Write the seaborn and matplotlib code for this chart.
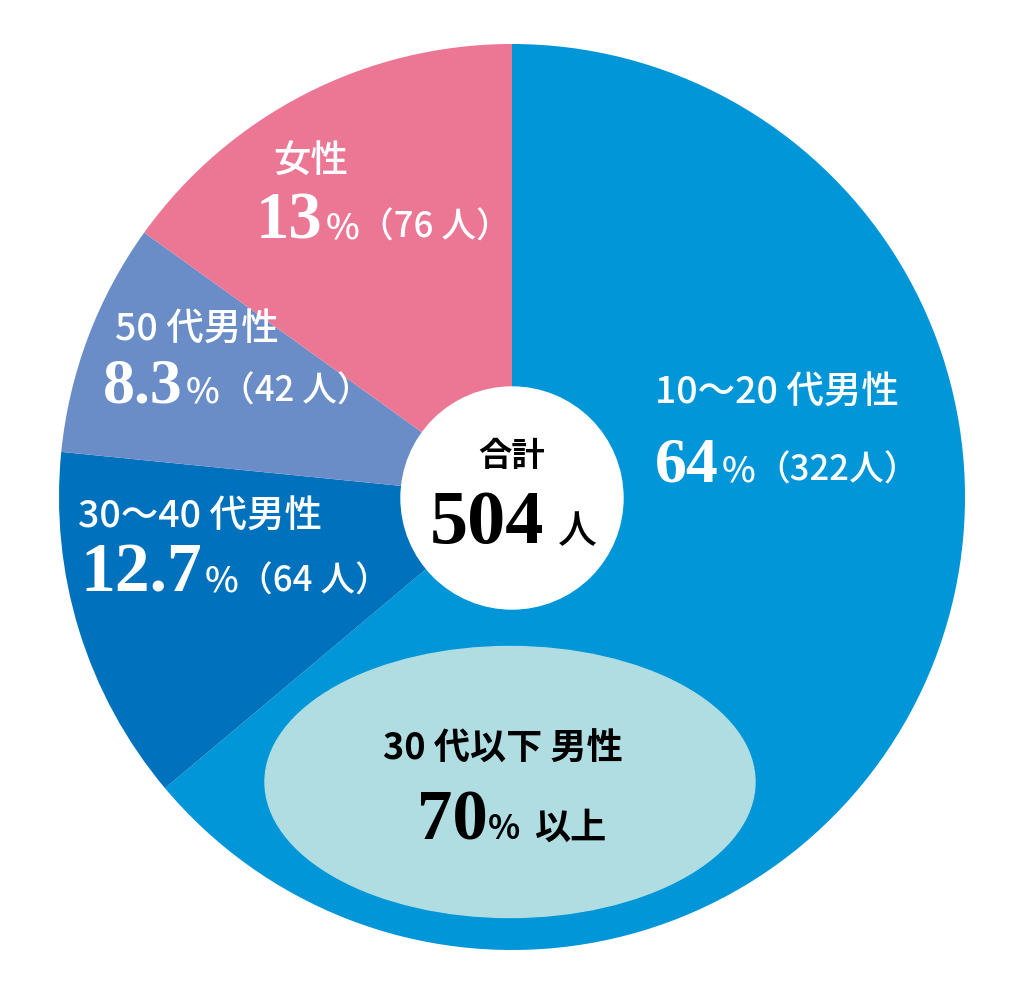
import matplotlib
matplotlib.use('Agg')
import matplotlib.pyplot as plt
from matplotlib.patches import Ellipse, Circle
import seaborn as sns

# data
groups = ['10〜20 代男性', '30〜40 代男性', '50 代男性', '女性']
counts = [322, 64, 42, 76]
pct_labels = ['64', '12.7', '8.3', '13']
count_labels = ['（322人）', '（64 人）', '（42 人）', '（76 人）']
colors = ['#0096d8', '#0071bd', '#6a8dc8', '#ec7795']
total = sum(counts)

sns.set_theme(style='white')
plt.rcParams['font.family'] = ['Noto Sans CJK JP', 'DejaVu Sans']
JP = ['Noto Sans CJK JP', 'DejaVu Sans']
NUM = ['Liberation Serif', 'DejaVu Serif']

W, H = 1024, 1005
fig = plt.figure(figsize=(W / 100, H / 100), dpi=100)
ax = fig.add_axes([0, 0, 1, 1])
ax.set_xlim(0, W)
ax.set_ylim(0, H)
ax.set_aspect('equal')
ax.axis('off')

ax.pie(counts, colors=colors, startangle=90, counterclock=False,
       center=(512, H - 497), radius=453,
       wedgeprops=dict(linewidth=0))
ax.set_xlim(0, W)
ax.set_ylim(0, H)

ax.add_patch(Ellipse((510, H - 782), 490, 271, color='#b0dde2', zorder=3))
ax.add_patch(Circle((512, H - 498), 111, color='white', zorder=3))

renderer = fig.canvas.get_renderer()


def put_line(parts, x, y_img, color):
    # parts: list of (text, size, family, weight, gap)
    for text, size, fam, weight, gap in parts:
        t = ax.text(x, H - y_img, text, fontsize=size, family=fam,
                    fontweight=weight, color=color, ha='left',
                    va='baseline', zorder=5)
        bb = t.get_window_extent(renderer)
        x = bb.x1 + gap


# slice labels
label_pos = [(655, 403), (78, 527), (115, 340), (273, 173)]
big_pos = [(655, 481), (80, 592), (103, 402), (256, 238)]
big_size = [46, 50, 46, 48]
for i in range(len(groups)):
    lx, ly = label_pos[i]
    put_line([(groups[i], 27, JP, 'medium', 0)], lx, ly, 'white')
    bx, by = big_pos[i]
    put_line([(pct_labels[i], big_size[i], NUM, 'bold', 3),
              ('%', 26, JP, 'medium', 0),
              (count_labels[i], 25, JP, 'medium', 0)], bx, by, 'white')

# centre total
ax.text(512, H - 466, '合計', fontsize=24, family=JP, fontweight='bold',
        color='black', ha='center', va='baseline', zorder=5)
put_line([(str(total), 55, NUM, 'bold', 14),
          ('人', 28, JP, 'medium', 0)], 430, 543, 'black')

# ellipse note
ax.text(503, H - 760, '30 代以下 男性', fontsize=26, family=JP,
        fontweight='bold', color='black', ha='center', va='baseline', zorder=5)
put_line([('70', 51, NUM, 'bold', 0),
          ('%', 24, JP, 'bold', 14),
          ('以上', 26, JP, 'bold', 0)], 417, 839, 'black')

fig.savefig('out.png', dpi=100)
